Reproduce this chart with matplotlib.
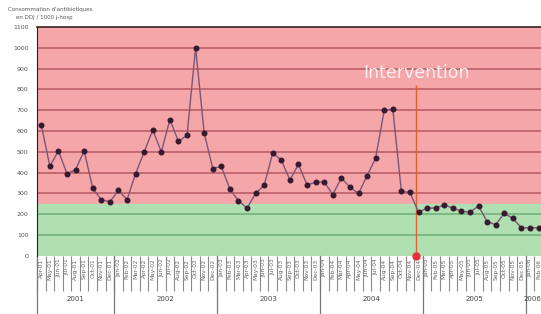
#importing matplotlib to draw the monthly chart
import matplotlib.pyplot as plt

#monthly values (Apr 2001 - Feb 2006)
values = [630, 430, 505, 395, 415, 505, 325, 270, 260,
          315, 270, 395, 500, 605, 500, 655, 550, 580, 1000, 590, 420,
          430, 320, 265, 230, 300, 340, 495, 460, 365, 440, 340, 355,
          355, 295, 375, 330, 300, 385, 470, 700, 705, 310, 305, 210,
          230, 230, 245, 230, 215, 210, 240, 165, 150, 205, 180, 135,
          135, 135]

years = ['2001', '2002', '2003', '2004', '2005', '2006']
months_per_year = [9, 12, 12, 12, 12, 2]
first_month = [4, 1, 1, 1, 1, 1]
month_names = ['Jan', 'Feb', 'Mar', 'Apr', 'May', 'Jun',
               'Jul', 'Aug', 'Sep', 'Oct', 'Nov', 'Dec']

target_level = 250
intervention_pos = 43.75
yticks = list(range(0, 1101, 100))

#building the tick labels
labels = []
for y, n, m0 in zip(years, months_per_year, first_month):
    for k in range(n):
        labels.append("%s-%s" % (month_names[m0 - 1 + k], y[2:]))

x = list(range(len(values)))

fig = plt.figure(figsize=(5.41, 3.14), dpi=100)
ax = fig.add_axes([0.0684, 0.185, 0.935, 0.729])

#background zones
ax.axhspan(target_level, 1100, color='#f5a6a9', zorder=0)
ax.axhspan(0, target_level, color='#b0dfb1', zorder=0)

#grid lines, darker in each zone
for t in yticks[1:-1]:
    c = '#b45a63' if t > target_level else '#6fae78'
    ax.axhline(t, color=c, lw=1.1, zorder=1)

#the data
ax.plot(x, values, color='#7d5577', lw=1, marker='o', markersize=3.3,
        markerfacecolor='#351a30', markeredgecolor='#351a30', zorder=3)

#intervention
ax.vlines(intervention_pos, 0, 820, color='#e0602e', lw=1, zorder=2)
ax.plot([intervention_pos], [0], 'o', color='#e8303a', markersize=5,
        clip_on=False, zorder=4)
ax.text(intervention_pos, 880, "Intervention", color='#fbefef', fontsize=12.5,
        ha='center', va='center', zorder=4)

ax.set_xlim(-0.5, len(values) - 0.5)
ax.set_ylim(0, 1100)

ax.set_yticks(yticks)
ax.set_yticklabels([str(t) for t in yticks], fontsize=4.5, color='#555555')
ax.tick_params(axis='y', length=0, pad=6)

ax.set_xticks(x)
ax.set_xticklabels(labels, rotation=90, fontsize=4.2, color='#666666')
ax.set_xticks([i - 0.5 for i in range(len(values) + 1)], minor=True)
ax.tick_params(axis='x', which='major', length=0, pad=2)
ax.tick_params(axis='x', which='minor', length=25, width=0.8, color='#8a8a8a')

#year separators and labels
start = 0
for y, n in zip(years, months_per_year):
    ax.plot([start - 0.5, start - 0.5], [0, -0.26], color='#777777', lw=0.9,
            transform=ax.get_xaxis_transform(), clip_on=False)
    if start + n >= len(values):
        #last year is cut by the edge, keep its label inside
        ax.text(len(values) - 0.7, -0.19, y, fontsize=5, color='#444444',
                ha='right', va='center', transform=ax.get_xaxis_transform())
    else:
        ax.text(start + n / 2 - 0.5, -0.19, y, fontsize=5, color='#444444',
                ha='center', va='center', transform=ax.get_xaxis_transform())
    start += n

for s in ['right', 'bottom']:
    ax.spines[s].set_visible(False)
ax.spines['left'].set_color('#222222')
ax.spines['top'].set_color('#3a2020')
ax.spines['top'].set_linewidth(1.2)

#axis title in the corner
fig.text(0.015, 0.965, "Consommation d'antibiotiques", fontsize=4, color='#555555')
fig.text(0.03, 0.94, "en DDJ / 1000 j-hosp", fontsize=4, color='#555555')

plt.savefig('out.png', dpi=100)
